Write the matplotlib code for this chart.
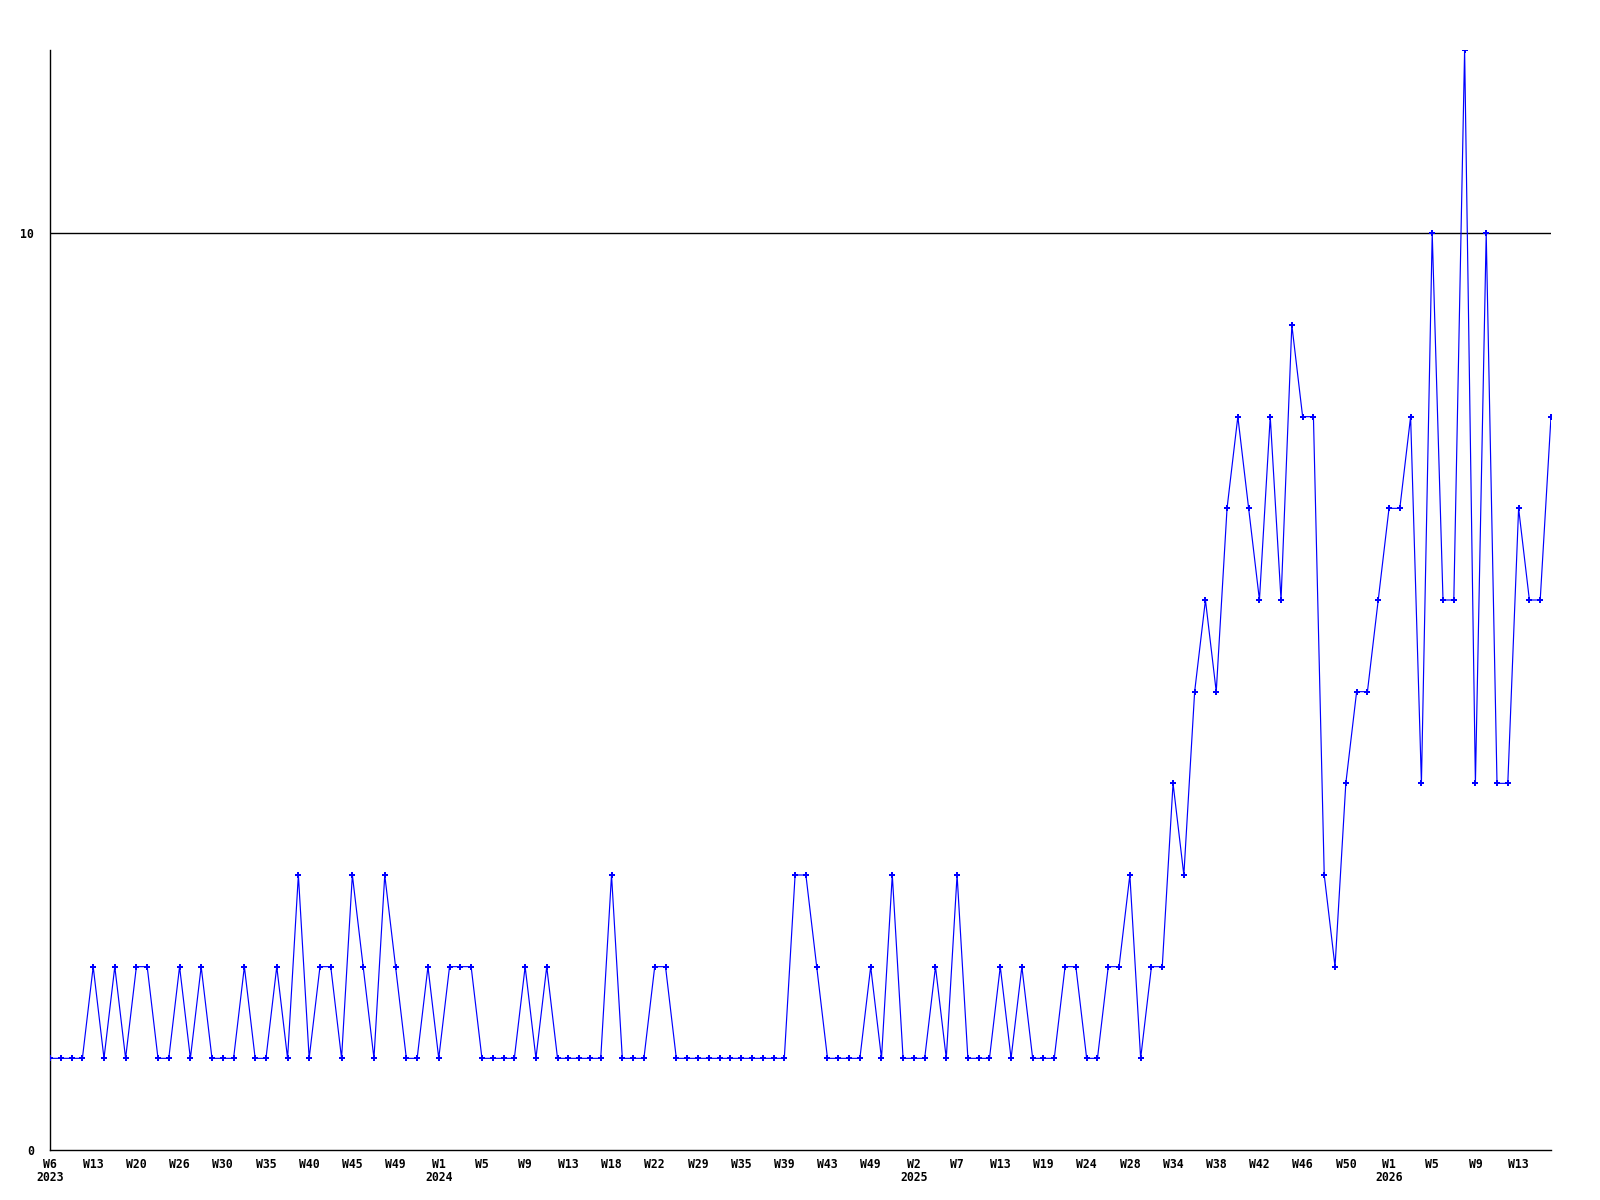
import matplotlib
matplotlib.use("Agg")
import matplotlib.pyplot as plt
import matplotlib.transforms as mtransforms

values = [
    1, 1, 1, 1, 2, 1, 2, 1, 2, 2, 1, 1, 2, 1, 2, 1, 1, 1, 2, 1,
    1, 2, 1, 3, 1, 2, 2, 1, 3, 2, 1, 3, 2, 1, 1, 2, 1, 2, 2, 2,
    1, 1, 1, 1, 2, 1, 2, 1, 1, 1, 1, 1, 3, 1, 1, 1, 2, 2, 1, 1,
    1, 1, 1, 1, 1, 1, 1, 1, 1, 3, 3, 2, 1, 1, 1, 1, 2, 1, 3, 1,
    1, 1, 2, 1, 3, 1, 1, 1, 2, 1, 2, 1, 1, 1, 2, 2, 1, 1, 2, 2,
    3, 1, 2, 2, 4, 3, 5, 6, 5, 7, 8, 7, 6, 8, 6, 9, 8, 8, 3, 2,
    4, 5, 5, 6, 7, 7, 8, 4, 10, 6, 6, 12, 4, 10, 4, 4, 7, 6, 6, 8,
]

week_labels = [
    "W6", "W13", "W20", "W26", "W30", "W35", "W40", "W45", "W49",
    "W1", "W5", "W9", "W13", "W18", "W22", "W29", "W35", "W39", "W43", "W49",
    "W2", "W7", "W13", "W19", "W24", "W28", "W34", "W38", "W42", "W46", "W50",
    "W1", "W5", "W9", "W13",
]
label_step = 4
year_labels = ["2023", "2024", "2025", "2026"]
year_label_at = ["W6", "W1", "W2", "W1"]  # first label of each year

font = dict(family="DejaVu Sans Mono", fontweight="bold", fontsize=8.3)

fig = plt.figure(figsize=(16, 12), dpi=100)
ax = fig.add_axes([50 / 1600, 1 - 1150 / 1200, 1501 / 1600, 1100 / 1200])

x = list(range(len(values)))
ax.plot(x, values, color="#0000ff", lw=0.85, marker="P", markersize=3.8,
        markeredgewidth=0, markerfacecolor="#0000ff", zorder=3)
ax.axhline(10, color="black", lw=1.0, zorder=2)

ax.set_xlim(0, len(values) - 1)
ax.set_ylim(0, 12)

for s in ["top", "right"]:
    ax.spines[s].set_visible(False)
for s in ["left", "bottom"]:
    ax.spines[s].set_color("black")
    ax.spines[s].set_linewidth(1.0)

tick_pos = [i * label_step for i in range(len(week_labels))]
ax.set_xticks(tick_pos)
ax.set_xticklabels(week_labels, **font)
ax.set_yticks([0, 10])
ax.set_yticklabels(["0", "10"], **font)
ax.tick_params(axis="x", length=0, pad=5.5)
ax.tick_params(axis="y", length=0, pad=11.5)

# year labels under the first week label of each year
trans = mtransforms.blended_transform_factory(ax.transData, ax.transAxes)
year_positions = []
search_from = 0
for yl, wl in zip(year_labels, year_label_at):
    idx = week_labels.index(wl, search_from)
    year_positions.append(tick_pos[idx])
    search_from = idx + 1
for yl, xp in zip(year_labels, year_positions):
    ax.text(xp, -21 / 1100, yl, transform=trans, ha="center", va="top", **font)

fig.savefig("out.png", dpi=100)
